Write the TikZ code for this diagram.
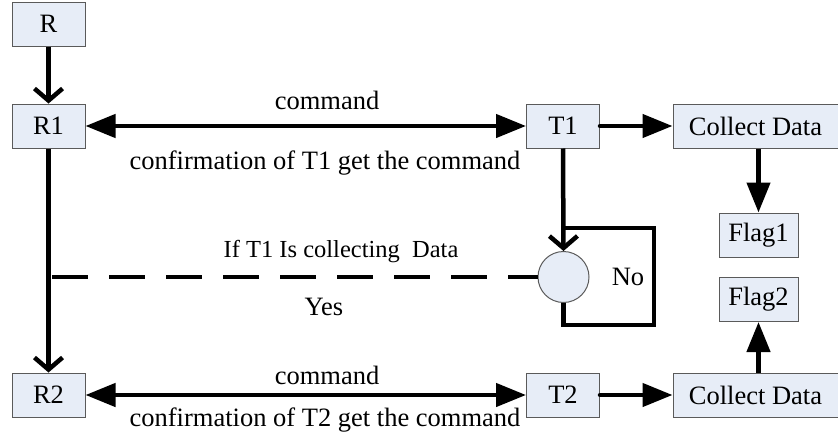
\documentclass[tikz,border=0pt]{standalone}
\usepackage{fontspec}
\setmainfont{Liberation Serif}
\usetikzlibrary{arrows.meta}
\definecolor{boxfill}{RGB}{231,237,247}
\definecolor{boxline}{RGB}{90,90,90}
\begin{document}
\begin{tikzpicture}[x=1pt,y=-1pt,
  every node/.style={font=\fontsize{26.5}{31}\selectfont, inner sep=0pt},
  blk/.style={draw=boxline, fill=boxfill, line width=1pt, minimum height=44pt},
  small/.style={blk, minimum width=73pt},
  flagbox/.style={blk, minimum width=79pt},
  wide/.style={blk, minimum width=165pt},
  decision/.style={circle, draw=boxline, fill=boxfill, line width=1pt, minimum size=51pt},
  link/.style={line width=4.5pt},
  solidtip/.style={-{Triangle[length=30pt,width=23pt]}},
  bothtips/.style={{Triangle[length=30pt,width=23pt]}-{Triangle[length=30pt,width=23pt]}},
  chevron/.style={-{Straight Barb[length=12pt,width=28pt,line width=4.5pt]}},
  lbl/.style={},
  question/.style={font=\fontsize{24.5}{29}\selectfont}]
\useasboundingbox (0,0) rectangle (838,439);

% boxes
\node[small] (R)  at (48.5,24)  {R};
\node[small] (R1) at (48.5,126) {R1};
\node[small] (R2) at (48.5,395) {R2};
\node[small] (T1) at (563,126)  {T1};
\node[small] (T2) at (563,395)  {T2};
\node[wide]  (C1) at (755.5,126) {Collect Data};
\node[wide]  (C2) at (755.5,395) {Collect Data};
\node[flagbox] (F1) at (758.5,235) {Flag1};
\node[flagbox] (F2) at (758.5,299.5) {Flag2};
\node[decision] (D) at (563.5,277) {};

% labels
\node[lbl] (cmd1)  at (327,100) {command};
\node[lbl] (conf1) at (325,163) {confirmation of T1 get the command};
\node[lbl] (cmd2)  at (327,375) {command};
\node[lbl] (conf2) at (325,420) {confirmation of T2 get the command};
\node[lbl, question] (ask) at (341,252) {If T1 Is collecting\ \ Data};
\node[lbl] (yes)   at (324,307) {Yes};
\node[lbl] (no)    at (628,277) {No};

% loop corners
\coordinate (lb) at (563.5,325);
\coordinate (rb) at (654,325);
\coordinate (rt) at (654,228);
\coordinate (lt) at (563,228);
\coordinate (dstart) at (52,277);

% connectors
\draw[link, chevron] (R) -- (R1);
\draw[link, chevron] (R1) -- (R2);
\draw[link, bothtips] (R1) -- (T1);
\draw[link, bothtips] (R2) -- (T2);
\draw[link, solidtip, line cap=round] (T1.east) -- (C1.west);
\draw[link, solidtip, line cap=round] (T2.east) -- (C2.west);
\draw[link, solidtip] (C1.south -| F1) -- (F1.north);
\draw[link, solidtip] (C2.north -| F2) -- (F2.south);
\draw[link, chevron] (T1.south) -- (D.north);
\draw[link, line join=miter] (D.south) -- (lb) -- (rb) -- (rt) -- (lt);
\draw[link, dash pattern=on 36pt off 21pt] (dstart) -- (D.west);
\end{tikzpicture}
\end{document}
